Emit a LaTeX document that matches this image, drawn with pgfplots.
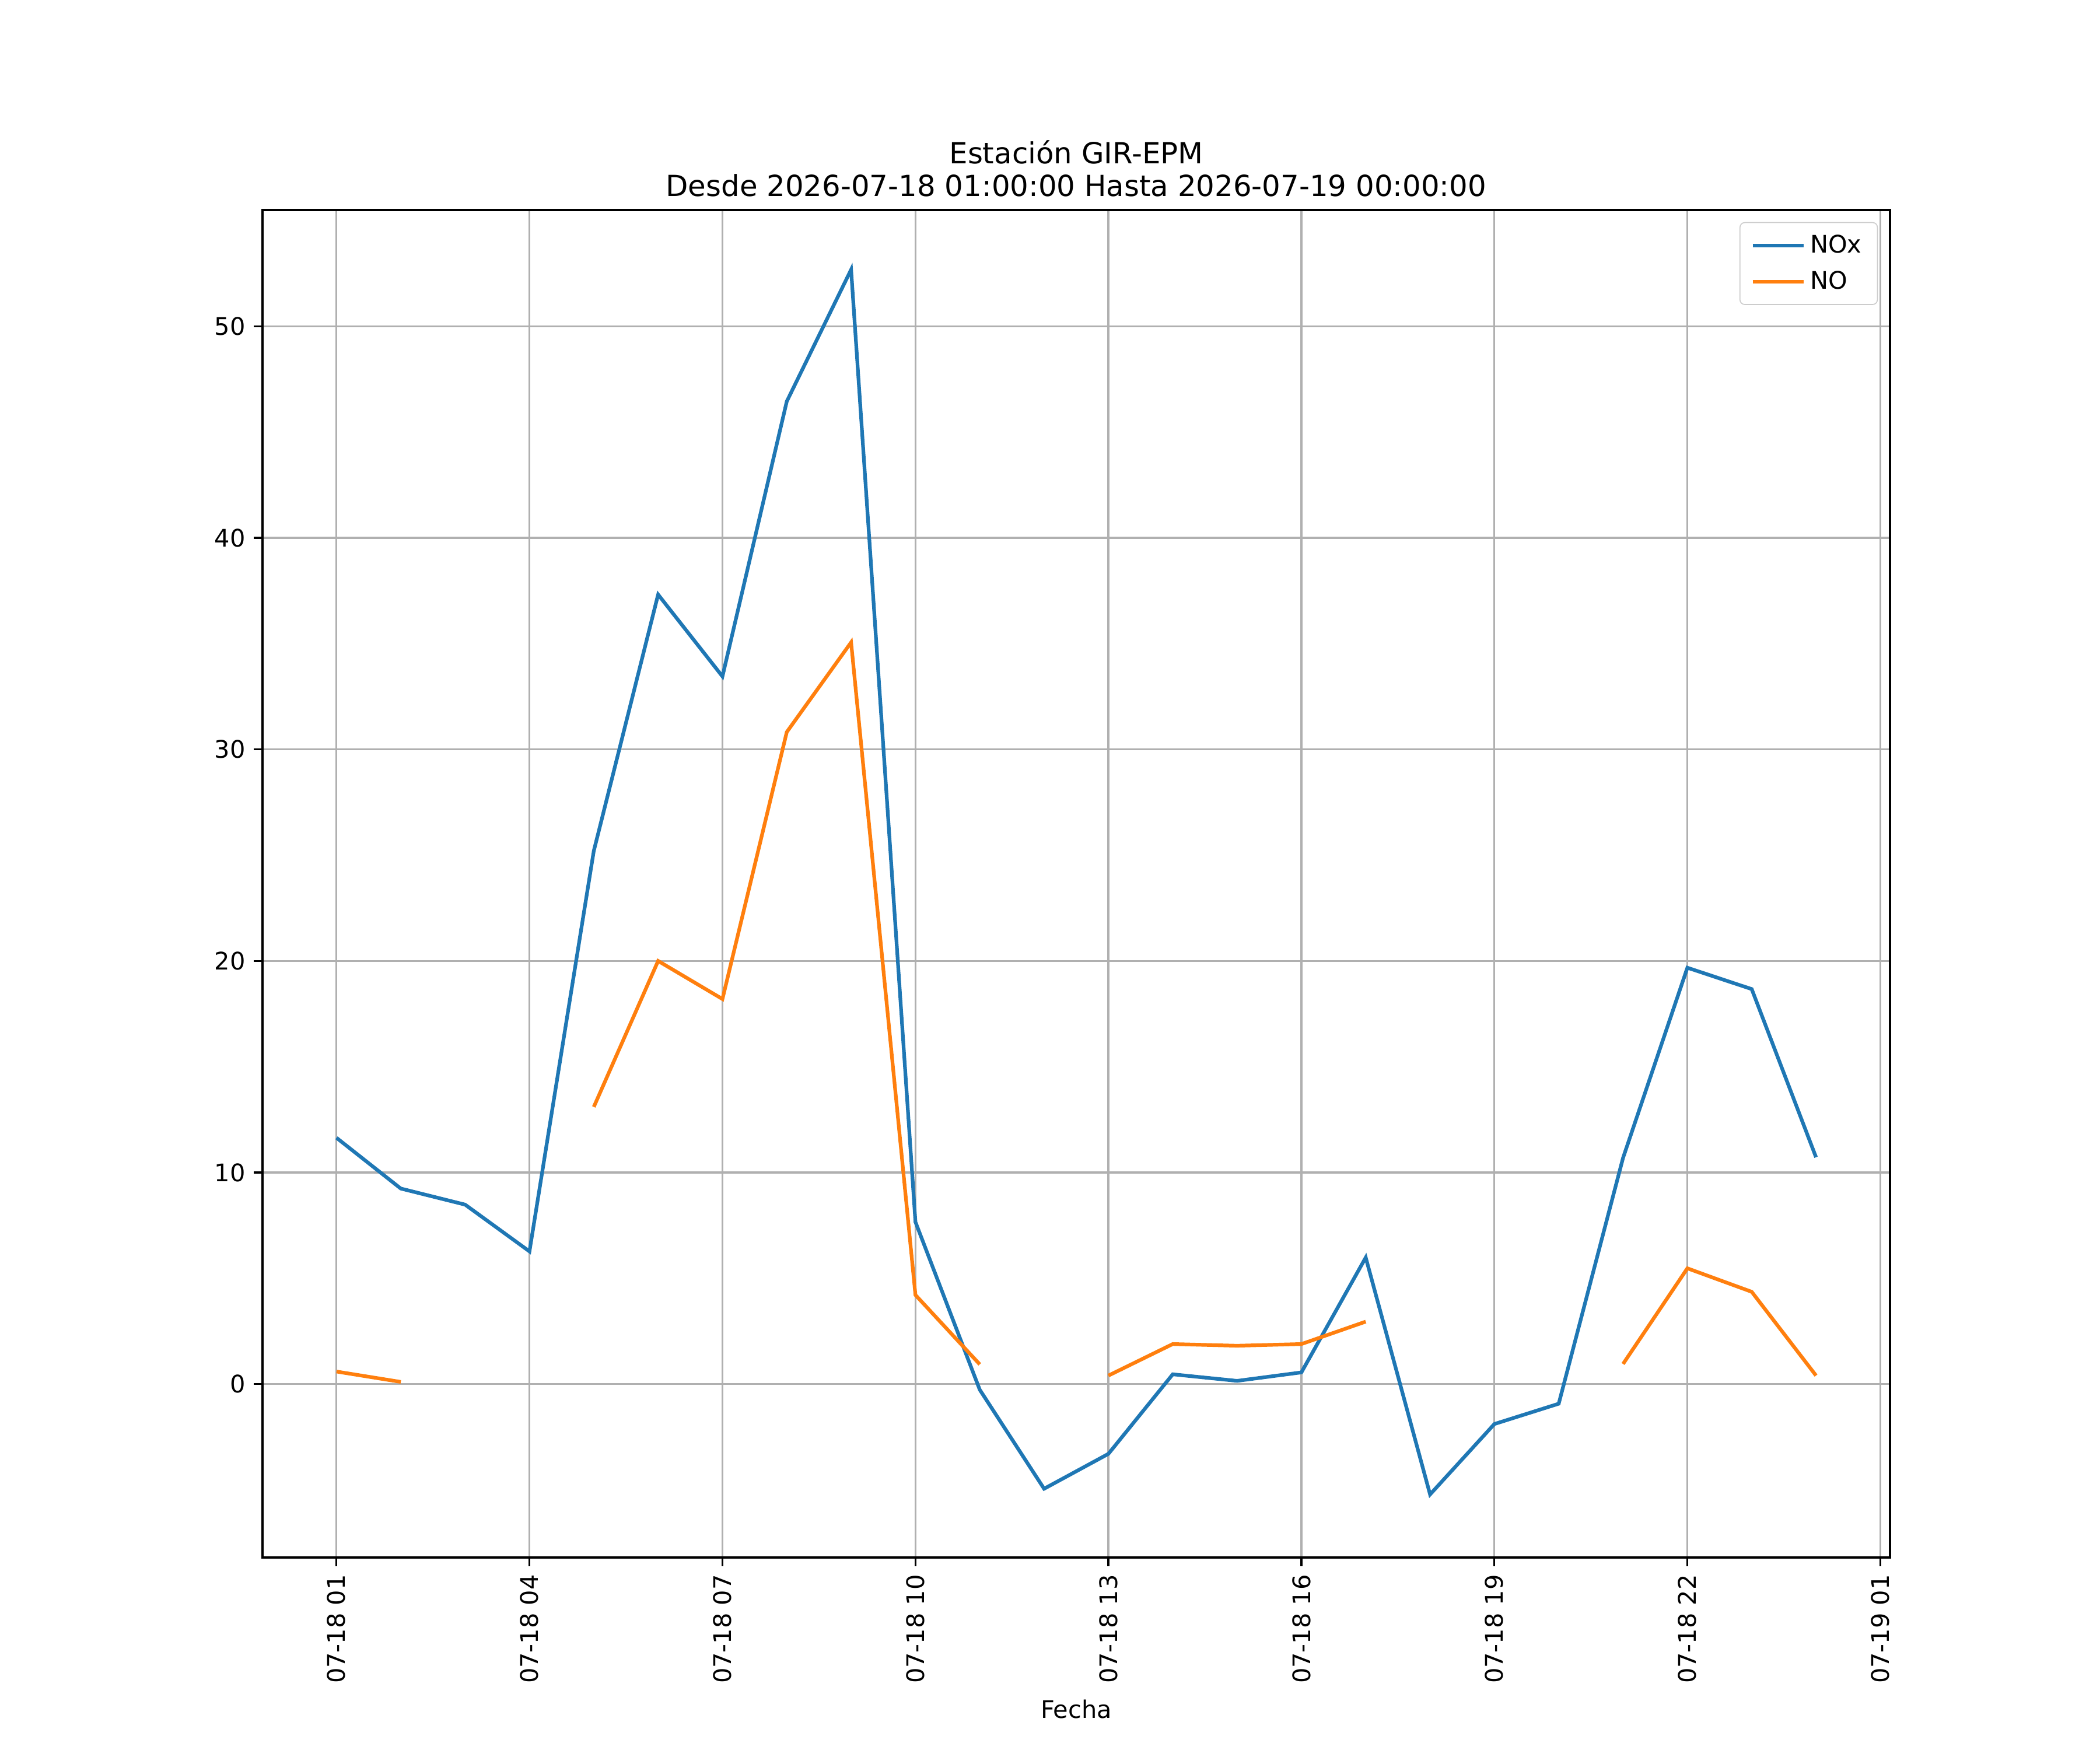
\documentclass[border=0pt]{standalone}
\usepackage{fontspec}
\setmainfont{DejaVu Sans}
\usepackage{pgfplots}
\pgfplotsset{compat=1.18}
\usepackage{pgfplotstable}
\definecolor{c0}{HTML}{1F77B4}
\definecolor{c1}{HTML}{FF7F0E}
\definecolor{gridc}{HTML}{B0B0B0}
\definecolor{legc}{HTML}{CCCCCC}
\pgfplotstableread{
h nox no
1 11.64 0.59
2 9.24 0.10
3 8.48 nan
4 6.27 nan
5 25.2 13.1
6 37.32 20.0
7 33.45 18.2
8 46.45 30.82
9 52.68 35.06
10 7.66 4.21
11 -0.27 0.93
12 -4.95 nan
13 -3.3 0.40
14 0.46 1.89
15 0.15 1.81
16 0.55 1.89
17 5.98 2.95
18 -5.22 nan
19 -1.89 nan
20 -0.93 nan
21 10.69 0.95
22 19.68 5.47
23 18.67 4.36
24 10.72 0.40
}\data
\begin{document}
\begin{tikzpicture}
\path[use as bounding box] (0,0) rectangle (12in,10in);
\begin{axis}[
  at={(1.5in,1.1in)}, anchor=south west,
  scale only axis, width=9.3in, height=7.7in,
  xmin=-0.15, xmax=25.15, ymin=-8.2, ymax=55.5,
  xtick={1,4,7,10,13,16,19,22,25},
  xticklabels={07-18 01,07-18 04,07-18 07,07-18 10,07-18 13,07-18 16,07-18 19,07-18 22,07-19 01},
  xticklabel style={rotate=90, anchor=east},
  ytick={0,10,20,30,40,50},
  /pgf/number format/assume math mode=true,
  grid=major,
  grid style={color=gridc, line width=0.8pt},
  axis line style={line width=0.8pt},
  tick style={color=black, line width=0.8pt},
  tick align=outside, major tick length=3.5pt, tick pos=left,
  unbounded coords=jump,
  xlabel={Fecha},
  title={Estación GIR-EPM\\Desde 2026-07-18 01:00:00 Hasta 2026-07-19 00:00:00},
  title style={at={(0.5,1)}, anchor=south, yshift=-4pt, align=center, font=\fontsize{12}{13.4}\selectfont},
  legend style={at={(1,1)}, anchor=north east, xshift=-5pt, yshift=-5pt,
    draw=legc, rounded corners=2pt, fill=white, fill opacity=0.8, text opacity=1,
    inner xsep=4.5pt, inner ysep=3pt, row sep=2pt},
  legend cell align=left,
  legend image code/.code={\draw[#1] (0pt,0pt) -- (21pt,0pt);},
]
\addplot[c0, line width=1.5pt] table[x=h, y=nox] {\data};
\addlegendentry{NOx}
\addplot[c1, line width=1.5pt] table[x=h, y=no] {\data};
\addlegendentry{NO}
\end{axis}
\end{tikzpicture}
\end{document}
